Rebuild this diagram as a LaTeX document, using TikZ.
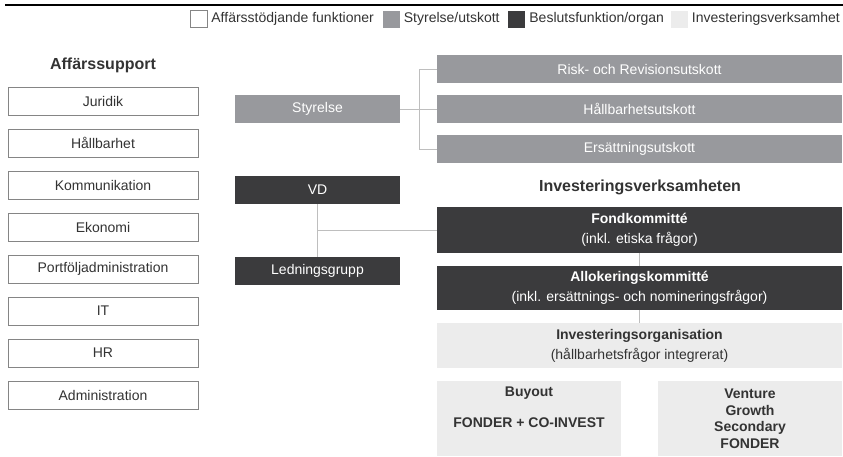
\documentclass[tikz,border=0pt]{standalone}
\usepackage{fontspec}
\setmainfont{Liberation Sans}
\definecolor{orgwhite}{RGB}{255,255,255}
\definecolor{orggray}{RGB}{152,153,157}
\definecolor{orgdark}{RGB}{59,59,61}
\definecolor{orglight}{RGB}{236,236,236}
\definecolor{orgline}{RGB}{190,190,190}
\definecolor{orgtext}{RGB}{51,51,51}
\usetikzlibrary{positioning,calc}

\begin{document}
\begin{tikzpicture}[x=1pt,y=-1pt,
  support/.style={draw=orgtext!60,fill=orgwhite,minimum width=190pt,minimum height=28pt,inner sep=0pt,text=orgtext,font=\fontsize{14}{16}\selectfont},
  board/.style={fill=orggray,minimum height=28pt,inner sep=0pt,text=white,font=\fontsize{14}{16}\selectfont},
  decision/.style={fill=orgdark,inner sep=0pt,text=white,align=center,font=\fontsize{14}{20}\selectfont},
  invest/.style={fill=orglight,inner sep=0pt,text=orgtext,align=center,font=\fontsize{14}{20}\selectfont},
  heading/.style={text=orgtext,font=\fontsize{16}{19}\selectfont\bfseries},
  legbox/.style={minimum size=17pt,inner sep=0pt},
  legtext/.style={right=4pt,inner sep=0pt,text=orgtext,font=\fontsize{14}{16}\selectfont},
  conn/.style={orgline,line width=1pt}]
  \useasboundingbox (0,0) rectangle (843,456);
  \draw[line width=2pt] (5,4.5) -- (843,4.5);
  % Legend (top)
  \node[legbox,draw=orgtext!60,fill=orgwhite] (l1) at (198.5,19) {};
  \node[legtext] at (l1.east) {Affärsstödjande funktioner};
  \node[legbox,fill=orggray] (l2) at (391,19) {};
  \node[legtext] at (l2.east) {Styrelse/utskott};
  \node[legbox,fill=orgdark] (l3) at (516.5,19) {};
  \node[legtext] at (l3.east) {Beslutsfunktion/organ};
  \node[legbox,fill=orglight] (l4) at (679,19) {};
  \node[legtext] at (l4.east) {Investeringsverksamhet};
  % Support functions (left)
  \node[heading] (supp) at (103,65) {Affärssupport};
  \foreach \name [count=\i from 0] in {Juridik,Hållbarhet,Kommunikation,Ekonomi,Portföljadministration,IT,HR,Administration}
    \node[support] (s\i) at (103,101+42*\i) {\name};
  % Board and committees
  \node[board,minimum width=165pt] (sty) at (317.5,109) {Styrelse};
  \node[board,minimum width=405pt] (c1) at (639.5,69) {Risk- och Revisionsutskott};
  \node[board,minimum width=405pt] (c2) at (639.5,109) {Hållbarhetsutskott};
  \node[board,minimum width=405pt] (c3) at (639.5,149) {Ersättningsutskott};
  \coordinate (bus) at (419,109);
  \draw[conn] (sty.east) -- (bus);
  \draw[conn] (bus |- c1.west) -- (bus |- c3.west);
  \foreach \c in {c1,c2,c3} \draw[conn] (bus |- \c.west) -- (\c.west);
  % Management
  \node[decision,minimum width=165pt,minimum height=28pt] (vd) at (317.5,190) {VD};
  \node[decision,minimum width=165pt,minimum height=28pt] (lg) at (317.5,271) {Ledningsgrupp};
  % Investment operations (right)
  \node[heading] (inv) at (640,187) {Investeringsverksamheten};
  \node[decision,minimum width=405pt,minimum height=46pt] (fond) at (639.5,230) {\textbf{Fondkommitté}\\(inkl. etiska frågor)};
  \node[decision,minimum width=405pt,minimum height=44pt] (allok) at (639.5,288) {\textbf{Allokeringskommitté}\\(inkl. ersättnings- och nomineringsfrågor)};
  \node[invest,minimum width=405pt,minimum height=45pt] (org) at (639.5,345.5) {\textbf{Investeringsorganisation}\\(hållbarhetsfrågor integrerat)};
  \draw[conn] (vd.south) -- (lg.north);
  \draw[conn] (vd.south |- fond.west) -- (fond.west);
  \draw[conn] (fond.south) -- (allok.north);
  \draw[conn] (allok.south) -- (org.north);
  % Funds
  \node[invest,minimum width=184pt,minimum height=75pt,anchor=north] (buy) at (529,381) {};
  \node[invest,font=\fontsize{14}{16}\selectfont\bfseries] at (529,393) {Buyout};
  \node[invest,font=\fontsize{14}{16}\selectfont\bfseries] at (529,423) {FONDER + CO-INVEST};
  \node[invest,minimum width=184pt,minimum height=75pt,anchor=north] (vent) at (750,381) {};
  \node[invest,anchor=north,font=\fontsize{14}{16.7}\selectfont\bfseries] at (750,388.5) {Venture\\Growth\\Secondary\\FONDER};
\end{tikzpicture}
\end{document}
